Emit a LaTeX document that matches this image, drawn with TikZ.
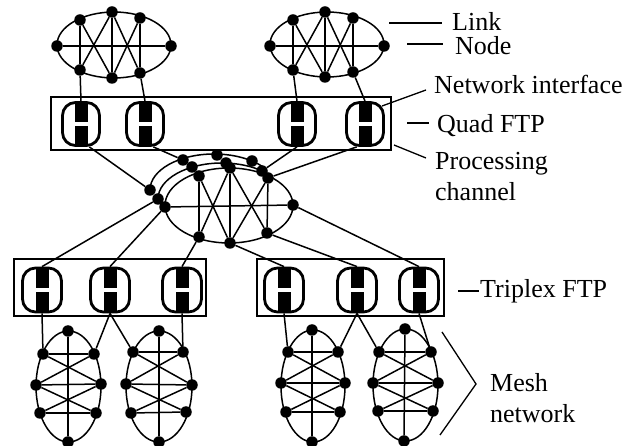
\documentclass[tikz,border=0pt]{standalone}
\usepackage{fontspec}
\setmainfont{Liberation Serif}
\usetikzlibrary{backgrounds,calc}
\tikzset{
  dotnode/.style={circle,fill=black,draw=none,minimum size=11.5pt,inner sep=0pt},
  link/.style={line width=1.5pt,black},
  wire/.style={line width=1.5pt,black},
  leader/.style={line width=1.3pt,black},
  ftpbox/.style={draw=black,line width=1.7pt,rectangle,inner sep=0pt},
  iface/.style={draw=black,line width=2.8pt,rectangle,rounded corners=13pt,inner sep=0pt,
    minimum width=37pt,minimum height=43pt,
    path picture={
      \fill[black,sharp corners] ([xshift=-6.5pt]path picture bounding box.north) rectangle ([xshift=6.5pt,yshift=1.5pt]path picture bounding box.center);
      \fill[black,sharp corners] ([xshift=-6.5pt,yshift=-2.5pt]path picture bounding box.center) rectangle ([xshift=6.5pt]path picture bounding box.south);
    }},
  lab/.style={anchor=base west,inner sep=0pt,font=\fontsize{26}{30}\selectfont}
}
% outline: an ellipse touching the four extreme nodes of a mesh
\newcommand{\meshoutline}[1]{
  \draw[link] let \p1=(#1l),\p2=(#1r),\p3=(#1t),\p4=(#1b) in
    ({(\x1+\x2)/2},{(\y3+\y4)/2}) ellipse [x radius={(\x2-\x1)/2},y radius={(\y3-\y4)/2}];
}
% horizontal mesh: top, top-left, top-right, left, right, bottom-left, bottom-right, bottom
\newcommand{\hmesh}[9]{
  \node[dotnode] (#1t) at #2 {};
  \node[dotnode] (#1tl) at #3 {};
  \node[dotnode] (#1tr) at #4 {};
  \node[dotnode] (#1l) at #5 {};
  \node[dotnode] (#1r) at #6 {};
  \node[dotnode] (#1bl) at #7 {};
  \node[dotnode] (#1br) at #8 {};
  \node[dotnode] (#1b) at #9 {};
  \begin{scope}[on background layer]
    \meshoutline{#1}
    \draw[link] (#1l) -- (#1r);
    \draw[link] (#1tl) -- (#1bl);
    \draw[link] (#1t) -- (#1b);
    \draw[link] (#1tr) -- (#1br);
    \draw[link] (#1tl) -- (#1b);
    \draw[link] (#1bl) -- (#1t);
    \draw[link] (#1t) -- (#1br);
    \draw[link] (#1tr) -- (#1b);
  \end{scope}
}
% vertical mesh
\newcommand{\vmesh}[9]{
  \node[dotnode] (#1t) at #2 {};
  \node[dotnode] (#1tl) at #3 {};
  \node[dotnode] (#1tr) at #4 {};
  \node[dotnode] (#1l) at #5 {};
  \node[dotnode] (#1r) at #6 {};
  \node[dotnode] (#1bl) at #7 {};
  \node[dotnode] (#1br) at #8 {};
  \node[dotnode] (#1b) at #9 {};
  \begin{scope}[on background layer]
    \meshoutline{#1}
    \draw[link] (#1t) -- (#1b);
    \draw[link] (#1tl) -- (#1tr);
    \draw[link] (#1l) -- (#1r);
    \draw[link] (#1bl) -- (#1br);
    \draw[link] (#1tl) -- (#1r);
    \draw[link] (#1tr) -- (#1l);
    \draw[link] (#1l) -- (#1br);
    \draw[link] (#1r) -- (#1bl);
  \end{scope}
}
\begin{document}
\begin{tikzpicture}[x=1pt,y=-1pt]
\useasboundingbox (0,0) rectangle (641,446);

% top meshes
\hmesh{a}{(112,12)}{(80,20)}{(140,18)}{(57,46)}{(171,46)}{(80,70)}{(140,73)}{(112,78)}
\hmesh{c}{(325,12)}{(293,20)}{(353,18)}{(270,46)}{(384,46)}{(293,70)}{(353,72)}{(325,77)}

% quad FTP
\node[ftpbox,minimum width=340pt,minimum height=53pt] (quad) at (221,123.5) {};
\node[iface] (q1) at (81,124) {};
\node[iface] (q2) at (145,124) {};
\node[iface] (q3) at (297,124) {};
\node[iface] (q4) at (365,124) {};

% central processing channels
\hmesh{p}{(230,168)}{(199,176)}{(268,178)}{(165,207)}{(293,205)}{(199,237)}{(267,233)}{(230,243)}
\node[dotnode] (ol) at (150,190) {};
\node[dotnode] (otl) at (183,160) {};
\node[dotnode] (ot) at (217,155) {};
\node[dotnode] (otr) at (252,161) {};
\node[dotnode] (ml) at (158,199) {};
\node[dotnode] (mtl) at (192,167) {};
\node[dotnode] (mt) at (226,163) {};
\node[dotnode] (mtr) at (262,171) {};
\begin{scope}[on background layer]
  \draw[link] (ol) arc[start angle=180,end angle=41,x radius=64pt,y radius=36pt];
  \draw[link] (ml) arc[start angle=180,end angle=44,x radius=64pt,y radius=36pt];
\end{scope}

% triplex FTP
\node[ftpbox,minimum width=192pt,minimum height=57pt] (triL) at (110,287.5) {};
\node[ftpbox,minimum width=187pt,minimum height=57pt] (triR) at (350.5,287.5) {};
\node[iface,minimum width=39pt,minimum height=44pt] (t1) at (42,290) {};
\node[iface,minimum width=39pt,minimum height=44pt] (t2) at (110,290) {};
\node[iface,minimum width=39pt,minimum height=44pt] (t3) at (182,290) {};
\node[iface,minimum width=39pt,minimum height=44pt] (t4) at (284,290) {};
\node[iface,minimum width=39pt,minimum height=44pt] (t5) at (357,290) {};
\node[iface,minimum width=39pt,minimum height=44pt] (t6) at (419,290) {};

% mesh networks
\vmesh{e}{(68,331)}{(43,354)}{(94,354)}{(36,385)}{(101,384)}{(40,413)}{(96,413)}{(68,442)}
\vmesh{f}{(159,331)}{(133,352)}{(183,352)}{(126,384)}{(192,385)}{(131,413)}{(186,412)}{(159,442)}
\vmesh{g}{(312,330)}{(288,352)}{(338,352)}{(281,383)}{(345,383)}{(286,412)}{(340,412)}{(312,442)}
\vmesh{h}{(405,329)}{(379,352)}{(431,352)}{(373,383)}{(438,383)}{(378,411)}{(433,411)}{(404,441)}

% wires
\begin{scope}[on background layer]
  \draw[wire] (abl) -- (q1.north);
  \draw[wire] (abr) -- (q2.north);
  \draw[wire] (cbl) -- (q3.north);
  \draw[wire] (cbr) -- (q4.north);
  \draw[wire] (q1.-70) -- (ol);
  \draw[wire] (q2.-70) -- (otl);
  \draw[wire] (q3.south) -- (mtr);
  \draw[wire] (q4.-110) -- (ptr);
  \draw[wire] (ml) -- (t1.north);
  \draw[wire] (pl) -- (t2.north);
  \draw[wire] (pbl) -- (t3.north);
  \draw[wire] (pb) -- (t4.north);
  \draw[wire] (pbr) -- (t5.north);
  \draw[wire] (pr) -- (t6.north);
  \draw[wire] (t1.south) -- (etl);
  \draw[wire] (t2.south) -- (etr);
  \draw[wire] (t2.south) -- (ftl);
  \draw[wire] (t3.south) -- (ftr);
  \draw[wire] (t4.south) -- (gtl);
  \draw[wire] (t5.south) -- (gtr);
  \draw[wire] (t5.south) -- (htl);
  \draw[wire] (t6.south) -- (htr);
\end{scope}

% labels
\node[lab] (tlink) at (452,31) {Link};
\node[lab] (tnode) at (455,55) {Node};
\node[lab] (tnet) at (434,94) {Network interface};
\node[lab] (tquad) at (437,133) {Quad FTP};
\node[lab] (tproc) at (435,170) {Processing};
\node[lab] (tchan) at (435,201) {channel};
\node[lab] (ttri) at (480,298) {Triplex FTP};
\node[lab] (tmesh) at (490,392) {Mesh};
\node[lab] (tnetw) at (490,423) {network};

% leaders
\coordinate (l1a) at (389,23); \coordinate (l1b) at (442,23);
\coordinate (l2a) at (407,44); \coordinate (l2b) at (443,44);
\coordinate (l3a) at (382,106); \coordinate (l3b) at (426,90);
\coordinate (l4a) at (407,123); \coordinate (l4b) at (429,123);
\coordinate (l5a) at (394,145); \coordinate (l5b) at (426,158);
\coordinate (l6a) at (458,291); \coordinate (l6b) at (479,291);
\coordinate (bra) at (442,332); \coordinate (brb) at (476,384); \coordinate (brc) at (440,435);
\draw[leader] (l1a) -- (l1b);
\draw[leader] (l2a) -- (l2b);
\draw[leader] (l3a) -- (l3b);
\draw[leader] (l4a) -- (l4b);
\draw[leader] (l5a) -- (l5b);
\draw[leader] (l6a) -- (l6b);
\draw[leader] (bra) -- (brb) -- (brc);
\end{tikzpicture}
\end{document}
